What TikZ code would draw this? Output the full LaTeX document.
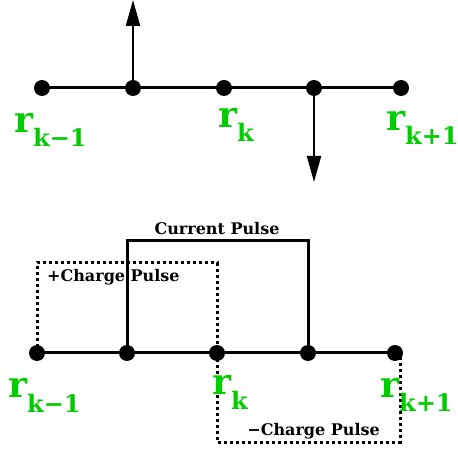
\documentclass[tikz,border=0pt]{standalone}
\usepackage{fontspec}
\setmainfont{DejaVu Serif}
\usetikzlibrary{positioning,arrows.meta}
\definecolor{labgreen}{RGB}{0,204,0}
\tikzset{
  site/.style={circle, fill=black, inner sep=0pt, minimum size=16pt},
  axisline/.style={line width=3pt},
  fluxarrow/.style={-{Triangle[length=26pt, width=14pt]}, line width=2.2pt},
  pulseline/.style={line width=3pt},
  chargebox/.style={line width=3pt, dash pattern=on 3pt off 3pt},
  pulselabel/.style={font=\bfseries\fontsize{16}{16}\selectfont, inner sep=0pt},
  rlabel/.style={anchor=base west, inner sep=0pt, text=labgreen, font=\bfseries}
}
\newcommand{\rsite}[1]{{\fontsize{36}{36}\selectfont r}\raisebox{-14pt}{\fontsize{24}{24}\selectfont #1}}

\begin{document}
\begin{tikzpicture}[x=1pt, y=-1pt, >=Latex]
  \useasboundingbox (0,0) rectangle (458,454);
  % upper chain
  \foreach \n/\x in {1/42,2/133,3/224,4/314,5/401}
    \node[site] (a\n) at (\x,88) {};
  \draw[axisline] (a1.center) -- (a5.center);
  \coordinate (upTip) at (133,0);
  \coordinate (downTip) at (314,182);
  \draw[fluxarrow] (a2.center) -- (upTip);
  \draw[fluxarrow] (a4.center) -- (downTip);
  \node[rlabel] (ra1) at (14,133) {\rsite{k−1}};
  \node[rlabel] (ra3) at (218,128) {\rsite{k}};
  \node[rlabel] (ra5) at (386,131) {\rsite{k+1}};
  % lower chain
  \foreach \n/\x in {1/37,2/127,3/217,4/308,5/395}
    \node[site] (b\n) at (\x,353) {};
  \draw[axisline] (b1.center) -- (b5.center);
  \coordinate (curL) at (127,241);
  \coordinate (curR) at (308,241);
  \draw[pulseline] (b2.center) -- (curL) -- (curR) -- (b4.center);
  \node[pulselabel] (curlab) at (217,229) {Current Pulse};
  \coordinate (posTop) at (37,263);
  \draw[chargebox] (b1.center) -- (posTop) -| (b3.center);
  \coordinate (negBot) at (217,442);
  \coordinate (negEnd) at (400,353);
  \draw[chargebox] (b3.center) -- (negBot) -| (negEnd);
  \node[pulselabel, anchor=west] (poslab) at (47,277) {+Charge Pulse};
  \node[pulselabel, anchor=east] (neglab) at (380,431) {−Charge Pulse};
  \node[rlabel] (rb1) at (8,398) {\rsite{k−1}};
  \node[rlabel] (rb3) at (212,395) {\rsite{k}};
  \node[rlabel] (rb5) at (380,397) {\rsite{k+1}};
\end{tikzpicture}
\end{document}
